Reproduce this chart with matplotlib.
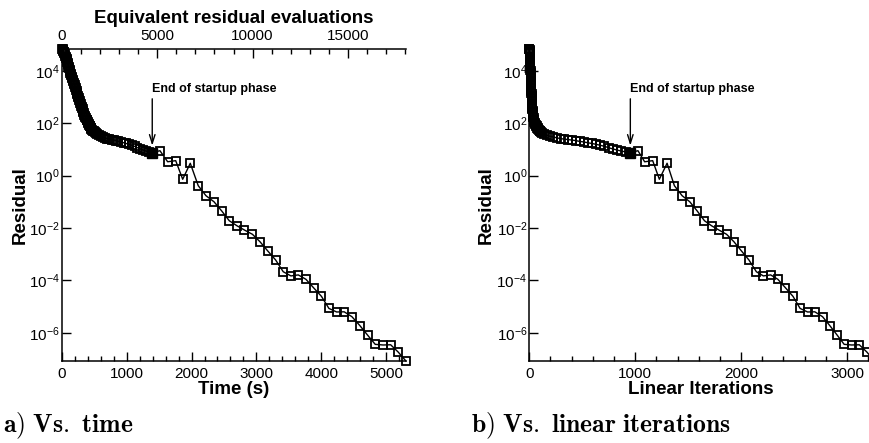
import matplotlib
matplotlib.use("Agg")
import matplotlib.pyplot as plt
from matplotlib.ticker import MultipleLocator, LogLocator, LogFormatterSciNotation, NullLocator

plt.rcParams['font.family'] = ['Liberation Sans', 'DejaVu Sans']
plt.rcParams['mathtext.default'] = 'regular'
plt.rcParams['axes.unicode_minus'] = False

# ---- convergence history -------------------------------------------------
# startup (pseudo-transient) phase
startup_time = [3, 10, 17, 22, 27, 32, 37, 44, 50, 56, 63, 70, 76, 82, 88, 93, 98,
                104, 110, 117, 124, 131, 138, 145, 152, 159, 166, 173, 180, 188,
                195, 202, 209, 217, 224, 231, 238, 245, 252, 259, 266, 274, 281,
                289, 296, 303, 310, 317, 324, 331, 338, 345, 353, 361, 370, 379,
                388, 395, 403, 411, 419, 427, 434, 441, 448, 454, 460, 475, 490,
                505, 520,
                545, 575, 600, 628, 660, 695, 730, 765, 800, 835, 872, 910, 950,
                990, 1030, 1075, 1120, 1165, 1210, 1255, 1300, 1345]
startup_linear = [1, 1, 2, 3, 4, 4, 5, 5, 6, 6, 7, 7, 8, 8, 9, 9, 10, 10, 11, 11,
                  12, 12, 13, 13, 14, 14, 15, 15, 16, 16, 17, 17, 18, 18, 19, 20,
                  21, 21, 22, 23, 24, 24, 25, 26, 27, 28, 29, 30, 31, 32, 34, 35,
                  37, 39, 41, 43, 46, 49, 53, 57, 61, 65, 70, 75, 80, 85, 91, 97,
                  104, 111, 119,
                  140, 165, 195, 228, 260, 295, 330, 365, 400, 437, 475, 512, 550,
                  590, 630, 670, 710, 750, 790, 830, 870, 912]
startup_residual = [7.1e4, 6.8e4, 6.3e4, 5.9e4, 5.5e4, 5.1e4, 4.7e4, 4.3e4, 3.9e4,
                    3.5e4, 3.2e4, 2.9e4, 2.6e4, 2.3e4, 2.0e4, 1.8e4, 1.6e4, 1.45e4,
                    1.3e4, 1.12e4, 1.0e4, 8.7e3, 7.8e3, 6.8e3, 6.0e3, 5.2e3, 4.7e3,
                    4.1e3, 3.6e3, 3.2e3, 2.8e3, 2.5e3, 2.2e3, 1.9e3, 1.7e3, 1.5e3,
                    1.3e3, 1.15e3, 1.0e3, 890, 790, 690, 620, 540, 480, 430, 380,
                    340, 300, 270, 240, 215, 190, 175, 160, 140, 130, 117, 107, 98,
                    89, 81, 76, 69, 65, 60, 56, 52, 49, 46, 44,
                    39, 35, 32, 30, 28, 26, 25, 24, 23, 22, 20.4, 19.5, 18.2, 17.0,
                    15.8, 14.5, 13.2, 11.7, 10.5, 9.5, 8.7, 8.1]

# last step of the startup phase
startup_end_time = 1393
startup_end_linear = 954
startup_end_residual = 7.6

# Newton phase
newton_time = [1512, 1631, 1755, 1863, 1980, 2103, 2222, 2346, 2465, 2582, 2701,
               2816, 2940, 3056, 3174, 3298, 3415, 3534, 3647, 3765, 3884, 4005,
               4120, 4239, 4356, 4475, 4599, 4717, 4835, 4958, 5073, 5190, 5309]
newton_linear = [1026, 1089, 1165, 1228, 1301, 1370, 1443, 1515, 1585, 1654, 1721,
                 1790, 1863, 1932, 2002, 2074, 2144, 2210, 2279, 2347, 2419, 2490,
                 2557, 2627, 2696, 2769, 2838, 2907, 2973, 3044, 3116, 3188, 3259]
newton_residual = [9.0, 3.4, 3.75, 0.73, 2.98, 0.415, 0.172, 0.101, 4.5e-2, 1.9e-2,
                   1.22e-2, 8.4e-3, 5.75e-3, 3.0e-3, 1.35e-3, 6.0e-4, 2.14e-4,
                   1.48e-4, 1.62e-4, 1.10e-4, 5.2e-5, 2.45e-5, 8.5e-6, 6.2e-6,
                   6.3e-6, 4.1e-6, 1.86e-6, 8.1e-7, 3.6e-7, 3.4e-7, 3.47e-7,
                   1.82e-7, 8.3e-8]

time_s = startup_time + [startup_end_time] + newton_time
linear_its = startup_linear + [startup_end_linear] + newton_linear
residual = startup_residual + [startup_end_residual] + newton_residual

time_limits = (0, 5310)
evaluation_limits = (0, 18050)
linear_limits = (0, 3217)
residual_limits = (10 ** -7.08, 10 ** 4.84)

fig = plt.figure(figsize=(8.7, 4.43), dpi=100)
W, H = 870.0, 443.0
ax_a = fig.add_axes([62 / W, (H - 361) / H, 344 / W, 312 / H])
ax_b = fig.add_axes([529.3 / W, (H - 361) / H, 340.7 / W, 312 / H])

label_font = dict(fontsize=13.5, fontweight='bold')


def style_axes(ax, x, xlim, major, minor, xlabel):
    ax.plot(x, residual, color='black', lw=1.0, marker='s', ms=6.2,
            mfc='none', mec='black', mew=1.3, clip_on=False, zorder=3)
    ax.set_yscale('log')
    ax.set_xlim(*xlim)
    ax.set_ylim(*residual_limits)
    ax.xaxis.set_major_locator(MultipleLocator(major))
    ax.xaxis.set_minor_locator(MultipleLocator(minor))
    ax.yaxis.set_major_locator(LogLocator(base=100.0))
    ax.yaxis.set_minor_locator(NullLocator())
    ax.yaxis.set_major_formatter(LogFormatterSciNotation(base=10, labelOnlyBase=False))
    for side in ('top', 'right'):
        ax.spines[side].set_visible(False)
    for side in ('left', 'bottom'):
        ax.spines[side].set_linewidth(1.1)
    ax.tick_params(which='both', direction='in', labelsize=11, width=1.0,
                   top=False, right=False)
    ax.tick_params(which='major', length=6.5, pad=4)
    ax.tick_params(axis='y', which='major', pad=1.5)
    ax.tick_params(which='minor', length=3.5)
    ax.set_xlabel(xlabel, **label_font)
    ax.set_ylabel('Residual', **label_font)
    ax.patch.set_visible(False)


style_axes(ax_a, time_s, time_limits, 1000, 200, 'Time (s)')
style_axes(ax_b, linear_its, linear_limits, 1000, 200, 'Linear Iterations')

ax_a.xaxis.set_label_coords(0.5, -0.09)
ax_a.yaxis.set_label_coords(-0.122, 0.5)
ax_b.xaxis.set_label_coords(0.504, -0.09)
ax_b.yaxis.set_label_coords(-0.127, 0.5)
for ax in (ax_a, ax_b):
    ax.xaxis.label.set_va('center')
    ax.yaxis.label.set_va('center')

# equivalent residual evaluations along the top of panel a
ax_top = ax_a.twiny()
ax_top.set_xlim(*evaluation_limits)
ax_top.xaxis.set_major_locator(MultipleLocator(5000))
ax_top.xaxis.set_minor_locator(MultipleLocator(1000))
for side in ('left', 'right', 'bottom'):
    ax_top.spines[side].set_visible(False)
ax_top.spines['top'].set_linewidth(1.1)
ax_top.tick_params(which='both', direction='in', labelsize=11, width=1.0)
ax_top.tick_params(which='major', length=6.5, pad=4)
ax_top.tick_params(which='minor', length=3.5)
ax_top.set_xlabel('Equivalent residual evaluations', **label_font)
ax_top.xaxis.set_label_coords(0.5, 1.099)
ax_top.xaxis.label.set_va('center')

# end of the startup phase
for ax, x_end in ((ax_a, startup_end_time), (ax_b, startup_end_linear)):
    ax.plot([x_end], [startup_end_residual], marker='s', ms=7.5, mfc='black',
            mec='black', ls='none', clip_on=False, zorder=4)
    ax.annotate('End of startup phase', xy=(x_end, startup_end_residual),
                xytext=(0, 58), textcoords='offset pixels',
                ha='left', va='bottom', fontsize=9, fontweight='bold',
                arrowprops=dict(arrowstyle='->,head_length=0.7,head_width=0.22',
                                color='black', lw=1.0, relpos=(0.0, 0.0),
                                shrinkA=1, shrinkB=5))

# panel captions
caption = dict(fontsize=18.5, math_fontfamily='cm', va='baseline', ha='left')
fig.text(3 / W, 1 - 432 / H, r'$\mathbf{a)\ Vs.\ time}$', **caption)
fig.text(471 / W, 1 - 432 / H, r'$\mathbf{b)\ Vs.\ linear\ iterations}$', **caption)

fig.savefig('out.png', dpi=100)
